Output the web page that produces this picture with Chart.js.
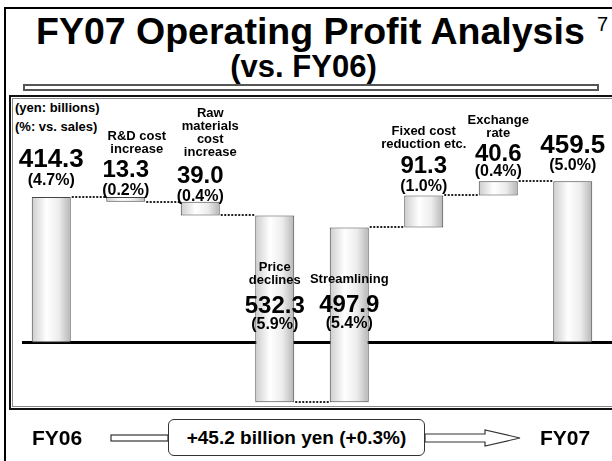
<!DOCTYPE html>
<html>
<head>
<meta charset="utf-8">
<script src="https://cdn.jsdelivr.net/npm/chart.js@4.4.0/dist/chart.umd.min.js"></script>
<style>
  html, body { margin: 0; padding: 0; background: #fff; }
  body { width: 612px; height: 461px; position: relative; overflow: hidden; font-family: 'Liberation Sans', Arial, sans-serif; }
  .t { position: absolute; white-space: nowrap; line-height: 1; font-weight: bold; color: #000; }
  #frame { position: absolute; left: 4px; top: 7px; width: 640px; height: 480px; border-left: 2px solid #000; border-top: 2px solid #000; }
  #rule { position: absolute; left: 23px; top: 84px; width: 576px; height: 7px; box-sizing: border-box; border: 2px solid #555; background: #fff; }
  #plotbox { position: absolute; left: 9px; top: 95px; width: 640px; height: 315px; box-sizing: border-box; border: 2px solid #111; box-shadow: inset 0 0 0 1px #fff, inset 0 0 0 2px #888; }
  #total { position: absolute; left: 168px; top: 419px; width: 257px; height: 37px; box-sizing: border-box; border: 1px solid #333; border-radius: 6px; background: #fff;
           display: flex; align-items: center; justify-content: center; font-weight: bold; font-size: 19px; }
  canvas { position: absolute; left: 0; top: 0; }
</style>
</head>
<body>
<div id="frame"></div>
<div class="t" style="left:36px; top:13px; font-size:37.5px;">FY07 Operating Profit Analysis</div>
<div class="t" style="left:597px; top:14px; font-size:20px; font-weight:normal;">7</div>
<div class="t" style="left:303.5px; top:51px; font-size:31px; transform:translateX(-50%);">(vs. FY06)</div>
<div id="rule"></div>
<div id="plotbox"></div>
<div class="t" style="left:15px; top:101px; font-size:13px;">(yen: billions)</div>
<div class="t" style="left:15px; top:120px; font-size:13px;">(%: vs. sales)</div>

<canvas id="chart" width="612" height="461"></canvas>

<div class="t" style="left:32px; top:427px; font-size:21px;">FY06</div>
<svg style="position:absolute; left:0; top:0;" width="612" height="461">
  <rect x="111" y="435" width="57" height="6" fill="#fff" stroke="#333" stroke-width="1.2"/>
  <polygon points="425,434 485,434 485,430 520,438 485,446 485,442 425,442" fill="#fff" stroke="#333" stroke-width="1.2"/>
</svg>
<div id="total">+45.2 billion yen (+0.3%)</div>
<div class="t" style="left:540px; top:427px; font-size:21px;">FY07</div>

<script>
const categories = ['FY06', 'R&D cost increase', 'Raw materials cost increase', 'Price declines',
                    'Streamlining', 'Fixed cost reduction etc.', 'Exchange rate', 'FY07'];
const amounts = [414.3, -13.3, -39.0, -532.3, 497.9, 91.3, 40.6, 459.5];
const salesPct = ['4.7', '0.2', '0.4', '5.9', '5.4', '1.0', '0.4', '5.0'];
const isTotal = [true, false, false, false, false, false, false, true];
const descLines = [
    [],
    ['R&D cost', 'increase'],
    ['Raw', 'materials', 'cost', 'increase'],
    ['Price', 'declines'],
    ['Streamlining'],
    ['Fixed cost', 'reduction etc.'],
    ['Exchange', 'rate'],
    []
];

// floating ranges for the waterfall
const ranges = [];
const levels = [];
let running = 0;
amounts.forEach((v, i) => {
    if (isTotal[i]) {
        ranges.push([0, v]);
        running = v;
    } else {
        ranges.push([running, running + v]);
        running += v;
    }
    levels.push(running);
});

// label placement, relative to the top of each bar (px)
const valueDy = [-30, -20, -19, 98, 85, -22, -20, -28];
const pctGap = [18, 18, 18, 16, 16, 18, 15, 17];
const descGap = [0, -24, -27, -29, -29, -25, -24, 0];
const descDx = [0, 11, 10, 0, 0, 0, 0, 0];
const valueSize = [26, 24, 24, 24, 24, 24, 24, 26];

const FONT = "'Liberation Sans', Arial, sans-serif";
const BAR_PCT = 0.523;

function barGradient(c) {
    const chart = c.chart;
    const xs = chart.scales && chart.scales.x;
    if (!xs || c.dataIndex == null) return '#eeeeee';
    const cx = xs.getPixelForValue(c.dataIndex);
    const half = (xs.width / categories.length) * BAR_PCT / 2;
    if (!isFinite(cx) || !isFinite(half) || half <= 0) return '#eeeeee';
    const g = chart.ctx.createLinearGradient(cx - half, 0, cx + half, 0);
    g.addColorStop(0, '#cdcdcd');
    g.addColorStop(0.38, '#ffffff');
    g.addColorStop(0.7, '#ececec');
    g.addColorStop(1, '#b5b5b5');
    return g;
}

const waterfallDecor = {
    id: 'waterfallDecor',
    beforeDatasetsDraw(chart) {
        const { ctx, scales: { y }, chartArea } = chart;
        const y0 = y.getPixelForValue(0);
        ctx.save();
        ctx.strokeStyle = '#000';
        ctx.lineWidth = 3;
        ctx.beginPath();
        ctx.moveTo(chartArea.left + 8, y0);
        ctx.lineTo(chart.width, y0);
        ctx.stroke();
        ctx.restore();
    },
    afterDatasetsDraw(chart) {
        const { ctx, scales: { y } } = chart;
        const bars = chart.getDatasetMeta(0).data;
        ctx.save();
        // dotted connectors
        ctx.strokeStyle = '#222';
        ctx.lineWidth = 2;
        ctx.setLineDash([2, 1.5]);
        for (let i = 0; i < bars.length - 1; i++) {
            const ly = Math.round(y.getPixelForValue(levels[i]));
            ctx.beginPath();
            ctx.moveTo(bars[i].x + bars[i].width / 2 + 1, ly);
            ctx.lineTo(bars[i + 1].x - bars[i + 1].width / 2 - 1, ly);
            ctx.stroke();
        }
        ctx.setLineDash([]);

        // labels
        ctx.fillStyle = '#000';
        ctx.textAlign = 'center';
        ctx.textBaseline = 'alphabetic';
        bars.forEach((bar, i) => {
            const top = y.getPixelForValue(Math.max(ranges[i][0], ranges[i][1]));
            const vy = top + valueDy[i];
            ctx.font = 'bold ' + valueSize[i] + 'px ' + FONT;
            ctx.fillText(Math.abs(amounts[i]).toFixed(1), bar.x, vy);
            ctx.font = 'bold 16px ' + FONT;
            ctx.fillText('(' + salesPct[i] + '%)', bar.x, vy + pctGap[i]);
            const lines = descLines[i];
            ctx.font = 'bold 13px ' + FONT;
            lines.forEach((ln, k) => {
                const ly = vy + descGap[i] - (lines.length - 1 - k) * 13;
                ctx.fillText(ln, bar.x + descDx[i], ly);
            });
        });
        ctx.restore();
    }
};

const chart = new Chart(document.getElementById('chart'), {
    type: 'bar',
    data: {
        labels: categories,
        datasets: [{
            data: ranges,
            backgroundColor: barGradient,
            borderColor: '#444',
            borderWidth: 1,
            borderSkipped: false,
            barPercentage: BAR_PCT,
            categoryPercentage: 1
        }]
    },
    options: {
        responsive: false,
        devicePixelRatio: 1,
        animation: false,
        layout: { padding: { left: 14, right: 2, top: 95, bottom: 56 } },
        scales: {
            x: { display: false },
            y: { display: false, min: -178, max: 705 }
        },
        plugins: {
            legend: { display: false },
            tooltip: { enabled: false }
        }
    },
    plugins: [waterfallDecor]
});
chart.update();
</script>
</body>
</html>
